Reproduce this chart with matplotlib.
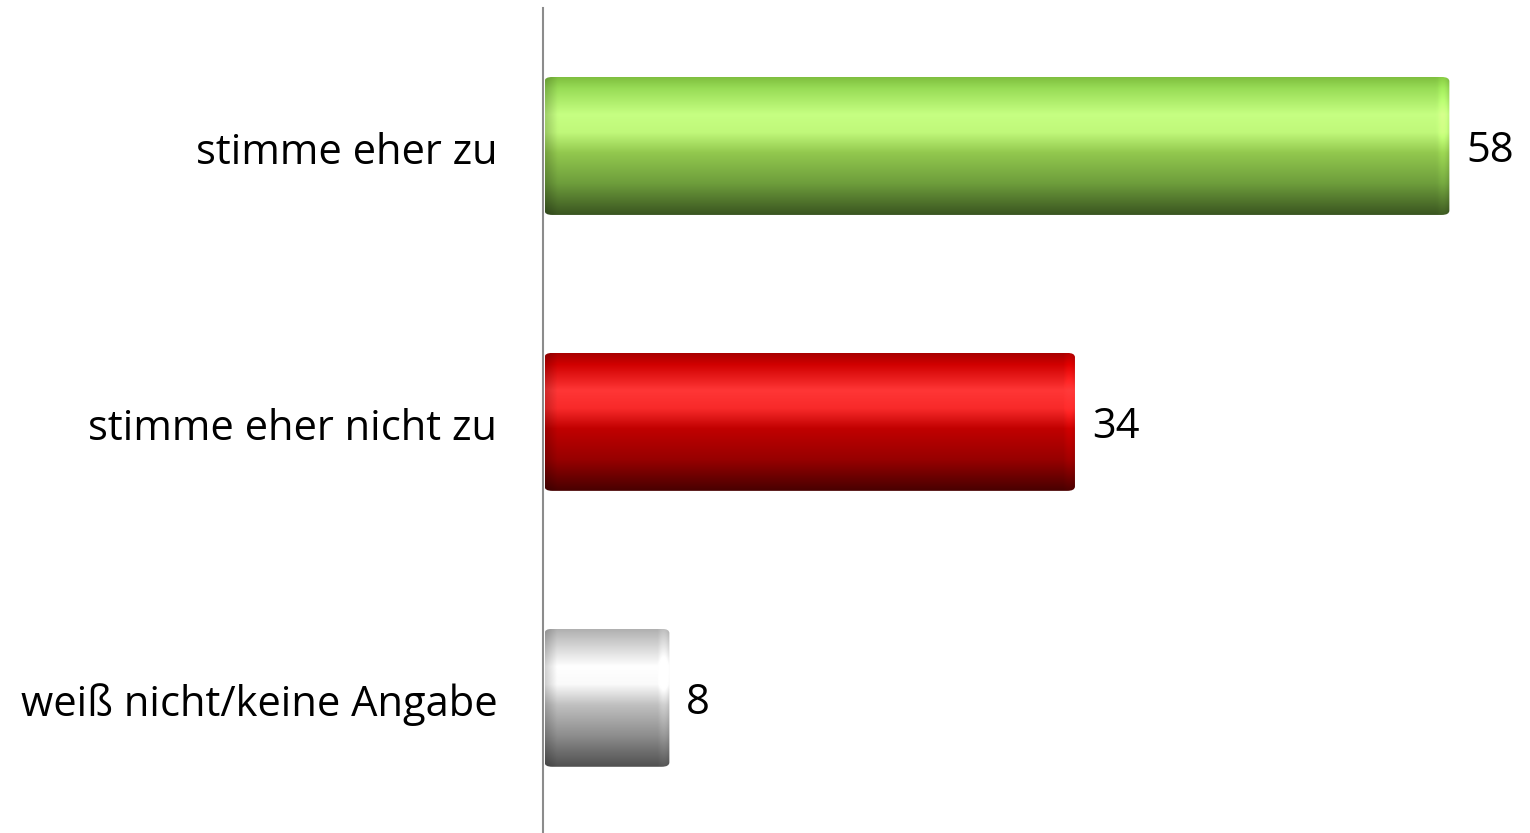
import numpy as np
import matplotlib
matplotlib.use("Agg")
import matplotlib.pyplot as plt
from matplotlib.patches import FancyBboxPatch
from matplotlib.colors import LinearSegmentedColormap, to_rgb

categories = ["stimme eher zu", "stimme eher nicht zu", "weiß nicht/keine Angabe"]
values = [58, 34, 8]

stops = [0.0, 0.08, 0.27, 0.40, 0.55, 0.77, 1.0]
palettes = [
    ["#7fbf3f", "#98dc56", "#c6ff82", "#c0f87a", "#92c84e", "#6e9e3c", "#3a5520"],
    ["#a80000", "#d00000", "#ff3636", "#f82a2a", "#c00000", "#980000", "#480000"],
    ["#b0b0b0", "#c8c8c8", "#ffffff", "#fafafa", "#c0c0c0", "#8e8e8e", "#505050"],
]

plt.rcParams['font.family'] = ['Open Sans', 'DejaVu Sans']

fig = plt.figure(figsize=(15.3, 8.33), dpi=100)
ax = fig.add_axes([543/1530, 0, 1 - 543/1530, 825/833])
xmax = 987 / 15.6
ax.set_xlim(0, xmax)
ax.set_ylim(2.49, -0.5)
for s in ["top", "right", "bottom"]:
    ax.spines[s].set_visible(False)
ax.spines["left"].set_color("#8c8c8c")
ax.spines["left"].set_linewidth(1.5)
ax.set_xticks([])
ax.set_yticks([i + 0.008 for i in range(len(categories))])
ax.set_yticklabels(categories, fontsize=30)
ax.tick_params(axis="y", length=0, pad=33)

h = 0.5
for i, (v, pal) in enumerate(zip(values, palettes)):
    x0 = 0.1
    cmap = LinearSegmentedColormap.from_list("g%d" % i, list(zip(stops, [to_rgb(c) for c in pal])))
    grad = np.linspace(0, 1, 256).reshape(-1, 1)
    rgb = cmap(grad)[:, :, :3]
    nx = 400
    xs = np.linspace(0, 1, nx)
    wpx = v * 15.6
    edge = 12.0 / wpx
    shade = np.ones(nx)
    left = xs < edge
    shade[left] = 0.82 + 0.18 * (xs[left] / edge)
    right = xs > 1 - edge
    t = (xs[right] - (1 - edge)) / edge
    shade[right] = 1.0 + 0.15 * np.sin(np.pi * t * 0.8) - 0.12 * t
    img = np.clip(rgb * shade[None, :, None], 0, 1)
    im = ax.imshow(img, extent=[x0, x0 + v, i + h / 2, i - h / 2], aspect="auto",
                   interpolation="bilinear", zorder=2)
    patch = FancyBboxPatch((x0, i - h / 2), v, h,
                           boxstyle="round,pad=0,rounding_size=0.5",
                           mutation_aspect=0.5 / 15.6,
                           facecolor="none", edgecolor="none", transform=ax.transData)
    ax.add_patch(patch)
    im.set_clip_path(patch)
    ax.text(x0 + v + 17 / 15.6, i + 0.02, str(v), va="center", ha="left", fontsize=30)

ax.set_xlim(0, xmax)
ax.set_ylim(2.49, -0.5)
fig.savefig("out.png", dpi=100)
